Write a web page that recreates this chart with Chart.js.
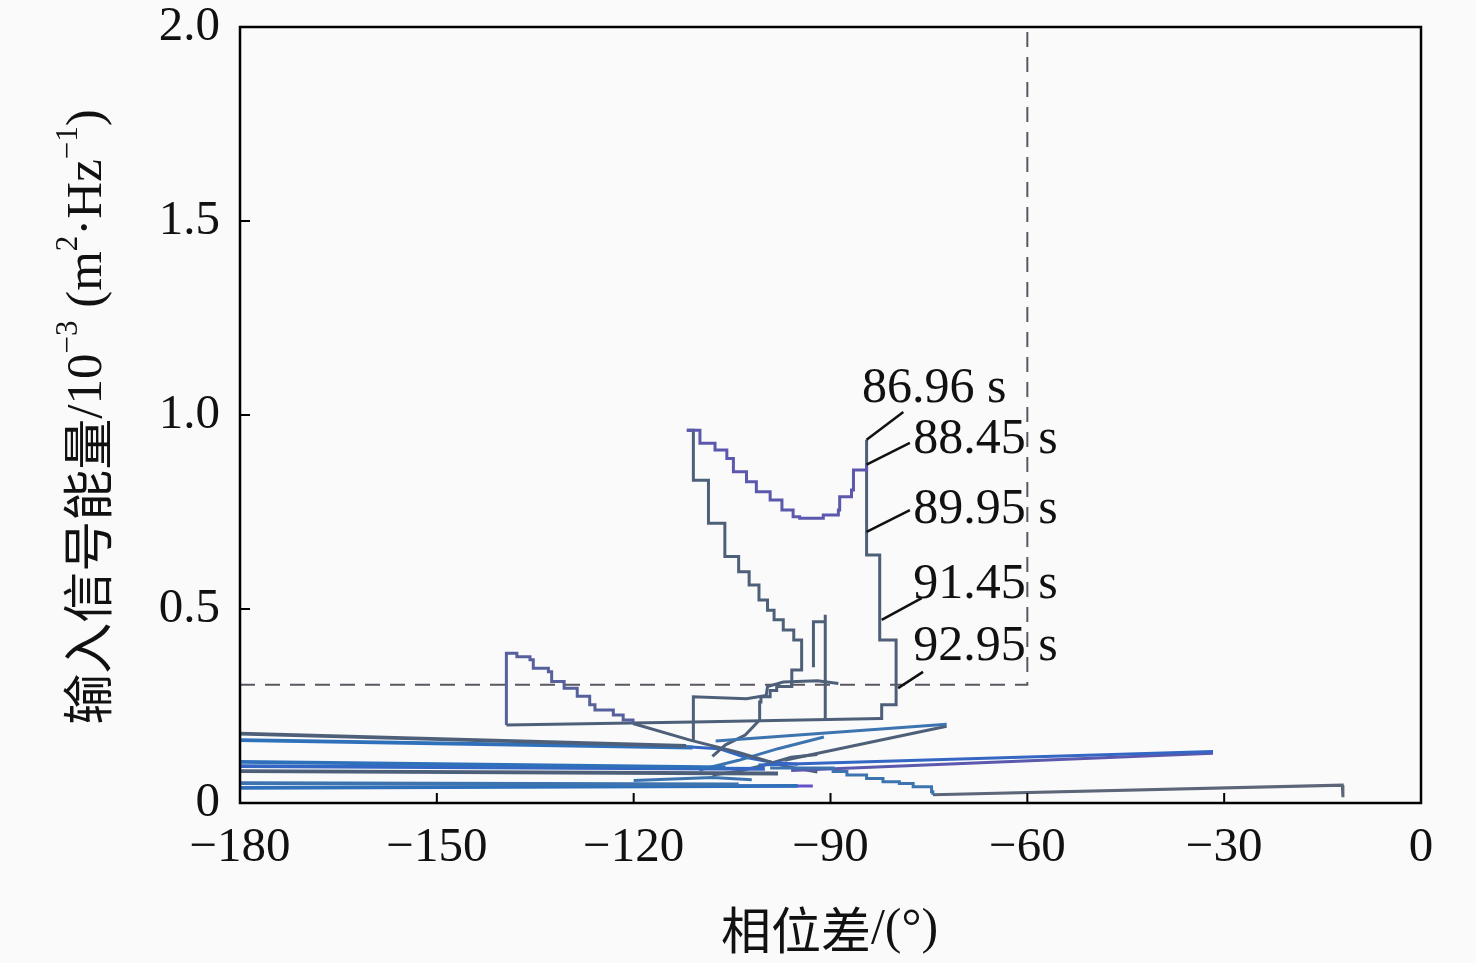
<!DOCTYPE html>
<html lang="zh">
<head>
<meta charset="UTF-8">
<title>输入信号能量与相位差</title>
<script src="https://cdn.jsdelivr.net/npm/chart.js"></script>
<style>
  html, body { margin: 0; padding: 0; background: #fafafa; }
  canvas { display: block; }
</style>
</head>
<body>
<canvas id="chart" width="1476" height="963"></canvas>
<script>
// phase difference (deg) / input energy (1e-3 m^2/Hz)
const upperArcX = [-111.9, -109.9, -107.6, -105.8, -104.8, -102.8, -101.3, -99.2, -97.4, -95.7, -94.7, -91.1, -88.8, -88.6, -86.8, -86.5, -84.5];
const upperArcY = [0.961, 0.927, 0.910, 0.888, 0.854, 0.828, 0.802, 0.781, 0.755, 0.738, 0.734, 0.742, 0.755, 0.789, 0.807, 0.858, 0.871];

const rightDropX = [-84.5, -84.5, -82.5, -80.0, -82.2, -82.2];
const rightDropY = [0.936, 0.639, 0.420, 0.253, 0.240, 0.214];

const innerStairX = [-111.9, -110.9, -108.6, -106.1, -104.0, -102.4, -100.9, -99.6, -98.6, -97.2, -95.6, -94.4, -95.9, -98.2, -99.2, -100.6, -100.8];
const innerStairY = [0.961, 0.832, 0.721, 0.635, 0.596, 0.562, 0.523, 0.497, 0.472, 0.446, 0.420, 0.343, 0.300, 0.290, 0.274, 0.260, 0.214];

const leftLoopX = [-139.4, -139.4, -137.8, -135.8, -135.3, -133.0, -132.5, -130.6, -128.6, -126.7, -125.9, -123.1, -121.6, -120.1];
const leftLoopY = [0.201, 0.386, 0.377, 0.369, 0.347, 0.338, 0.313, 0.296, 0.275, 0.253, 0.240, 0.227, 0.214, 0.205];

const bottomEdgeX = [-82.2, -110.9, -139.4];
const bottomEdgeY = [0.218, 0.209, 0.201];

const midBoxX = [-110.9, -110.9, -102.8, -99.8, -99.6, -97.2, -92.0, -88.8];
const midBoxY = [0.160, 0.274, 0.269, 0.277, 0.300, 0.312, 0.315, 0.308];

const smallRectX = [-92.6, -92.6, -90.8, -90.8];
const smallRectY = [0.350, 0.467, 0.485, 0.212];

const bottomStairX = [-99.2, -89.6, -87.5, -84.5, -82.0, -79.5, -77.4, -74.6, -74.4];
const bottomStairY = [0.090, 0.081, 0.072, 0.063, 0.055, 0.050, 0.042, 0.029, 0.021];

const tailX = [-74.4, -12.0, -11.9];
const tailY = [0.021, 0.046, 0.015];

// straight runs: [x0, x1, ...] / [y0, y1, ...]
const straightRuns = [
  { name: 'toMid1', x: [-107.5, -72.3], y: [0.160, 0.203] },
  { name: 'toMid2', x: [-97.0, -72.3], y: [0.110, 0.198] },
  { name: 'toFar1', x: [-101.0, -31.7], y: [0.098, 0.133] },
  { name: 'toFar2', x: [-96.0, -31.7], y: [0.084, 0.128] },
  { name: 'longA', x: [-180, -112], y: [0.179, 0.147] },
  { name: 'longB', x: [-180, -111], y: [0.162, 0.143] },
  { name: 'longC', x: [-180, -106], y: [0.106, 0.092] },
  { name: 'longD', x: [-180, -100], y: [0.095, 0.088] },
  { name: 'longE', x: [-180, -98], y: [0.082, 0.076] },
  { name: 'longF', x: [-180, -104], y: [0.051, 0.048] },
  { name: 'longG', x: [-180, -95], y: [0.039, 0.044] },
  { name: 'purple', x: [-107, -92.7], y: [0.044, 0.044] },
  { name: 'crossA', x: [-120.1, -111.4, -104, -97, -92], y: [0.205, 0.162, 0.130, 0.095, 0.080] },
  { name: 'crossB', x: [-110, -104, -98, -91], y: [0.085, 0.110, 0.140, 0.170] },
  { name: 'crossC', x: [-100.8, -103, -106, -108], y: [0.214, 0.175, 0.150, 0.120] },
  { name: 'crossD', x: [-112, -107, -103, -99, -95], y: [0.145, 0.140, 0.118, 0.105, 0.100] },
  { name: 'crossE', x: [-108, -104, -100, -96, -92], y: [0.072, 0.082, 0.098, 0.118, 0.125] },
  { name: 'crossF', x: [-120, -114, -108, -102], y: [0.058, 0.062, 0.066, 0.060] }
];

const dashX = [-180, -60, -60];
const dashY = [0.305, 0.305, 2.0];

const xTicks = [-180, -150, -120, -90, -60, -30, 0];
const yTicks = [0, 0.5, 1.0, 1.5, 2.0];

const timeLabels = ['86.96 s', '88.45 s', '89.95 s', '91.45 s', '92.95 s'];
const labelAnchorX = [-84.5, -84.5, -84.5, -82.2, -79.7];
const labelAnchorY = [0.936, 0.872, 0.699, 0.472, 0.296];
const labelEndX = [-78.9, -77.9, -77.9, -76.1, -75.9];
const labelEndY = [1.008, 0.928, 0.755, 0.528, 0.338];
const labelTextX = [-85.2, -77.4, -77.4, -77.4, -77.4];
const labelTextY = [1.033, 0.902, 0.722, 0.528, 0.369];

const colors = {
  slate: '#4e6079', purple: '#5b58ad', blue: '#2f70ba', blue2: '#3466c4',
  violet: '#6650c6', steel: '#3d74b0'
};

function pts(xs, ys) { return xs.map((x, i) => ({ x: x, y: ys[i] })); }

function line(data, color, stepped, width) {
  return { data: data, borderColor: color, borderWidth: width || 3, stepped: !!stepped,
           showLine: true, pointRadius: 0, fill: false };
}

const runColors = {
  toMid1: colors.steel, toMid2: colors.slate, toFar1: colors.blue2, toFar2: colors.purple,
  longA: colors.slate, longB: colors.blue, longC: colors.blue, longD: colors.blue2,
  longE: colors.slate, longF: colors.steel, longG: colors.blue, purple: colors.violet,
  crossA: colors.slate, crossB: colors.steel, crossC: colors.slate,
  crossD: colors.blue2, crossE: colors.slate, crossF: colors.steel
};

const datasets = [
  line(pts(upperArcX, upperArcY), colors.purple, true),
  line(pts(rightDropX, rightDropY), colors.slate, true),
  line(pts(innerStairX, innerStairY), colors.slate, true),
  line(pts(leftLoopX, leftLoopY), '#56609c', true),
  line(pts(bottomEdgeX, bottomEdgeY), colors.slate, false),
  line(pts(midBoxX, midBoxY), colors.slate, false),
  line(pts(smallRectX, smallRectY), colors.slate, true),
  line(pts(bottomStairX, bottomStairY), colors.steel, true),
  line(pts(tailX, tailY), '#5c6678', false)
];
straightRuns.forEach(r => {
  const w = r.name.indexOf('long') === 0 ? 3.8 : 3;
  datasets.push(line(pts(r.x, r.y), runColors[r.name], false, w));
});
const dashSet = line(pts(dashX, dashY), '#5a5760', false, 2);
dashSet.borderDash = [15, 10];
datasets.push(dashSet);

const serif = '"Liberation Serif", "Times New Roman", serif';
const cjk = '"Noto Sans CJK SC", sans-serif';

function drawRich(ctx, parts, size) {
  // parts: [text, kind] where kind is 'cjk', 'latin' or 'sup'
  const fontOf = k => k === 'cjk' ? size + 'px ' + cjk : (k === 'sup' ? Math.round(size * 0.6) + 'px ' + serif : size + 'px ' + serif);
  let total = 0;
  parts.forEach(p => { ctx.font = fontOf(p[1]); total += ctx.measureText(p[0]).width; });
  let x = -total / 2;
  parts.forEach(p => {
    ctx.font = fontOf(p[1]);
    ctx.fillText(p[0], x, p[1] === 'sup' ? -size * 0.38 : 0);
    x += ctx.measureText(p[0]).width;
  });
}

const decorPlugin = {
  id: 'decor',
  afterDatasetsDraw(chart) {
    const ctx = chart.ctx, a = chart.chartArea;
    const xs = chart.scales.x, ys = chart.scales.y;
    ctx.save();
    ctx.strokeStyle = '#000';
    ctx.lineWidth = 2.5;
    ctx.strokeRect(a.left, a.top, a.right - a.left, a.bottom - a.top);
    ctx.lineWidth = 2;
    ctx.beginPath();
    xTicks.forEach(v => { const p = xs.getPixelForValue(v); ctx.moveTo(p, a.bottom); ctx.lineTo(p, a.bottom - 10); });
    yTicks.forEach(v => { const p = ys.getPixelForValue(v); ctx.moveTo(a.left, p); ctx.lineTo(a.left + 10, p); });
    ctx.stroke();

    // time labels with leader lines
    ctx.fillStyle = '#111';
    ctx.strokeStyle = '#111';
    ctx.lineWidth = 2.5;
    ctx.font = '50px ' + serif;
    ctx.textBaseline = 'alphabetic';
    ctx.textAlign = 'left';
    timeLabels.forEach((t, i) => {
      ctx.beginPath();
      ctx.moveTo(xs.getPixelForValue(labelAnchorX[i]), ys.getPixelForValue(labelAnchorY[i]));
      ctx.lineTo(xs.getPixelForValue(labelEndX[i]), ys.getPixelForValue(labelEndY[i]));
      ctx.stroke();
      ctx.fillText(t, xs.getPixelForValue(labelTextX[i]), ys.getPixelForValue(labelTextY[i]));
    });

    // axis titles
    ctx.fillStyle = '#111';
    ctx.textBaseline = 'middle';
    ctx.save();
    ctx.translate((a.left + a.right) / 2 - 1, 930);
    drawRich(ctx, [['相位差', 'cjk'], ['/(°)', 'latin']], 50);
    ctx.restore();
    ctx.save();
    ctx.translate(88, 417);
    ctx.rotate(-Math.PI / 2);
    drawRich(ctx, [['输入信号能量', 'cjk'], ['/10', 'latin'], ['\u22123', 'sup'], [' (m', 'latin'],
                   ['2', 'sup'], ['·Hz', 'latin'], ['\u22121', 'sup'], [')', 'latin']], 51);
    ctx.restore();
    ctx.restore();
  }
};

new Chart(document.getElementById('chart'), {
  type: 'scatter',
  data: { datasets: datasets },
  options: {
    responsive: false,
    devicePixelRatio: 1,
    animation: false,
    layout: { padding: { top: 27, right: 55, left: 0, bottom: 0 } },
    plugins: { legend: { display: false }, tooltip: { enabled: false } },
    scales: {
      x: {
        type: 'linear', min: -180, max: 0,
        afterFit: s => { s.height = 160; s.paddingLeft = 0; s.paddingRight = 0; },
        afterBuildTicks: s => { s.ticks = xTicks.map(v => ({ value: v })); },
        grid: { display: false }, border: { display: false },
        ticks: {
          color: '#111', padding: 8, maxRotation: 0,
          font: { family: serif, size: 49 },
          callback: v => v < 0 ? '\u2212' + Math.abs(v) : String(v)
        }
      },
      y: {
        min: 0, max: 2,
        afterFit: s => { s.width = 240; s.paddingTop = 0; s.paddingBottom = 0; },
        afterBuildTicks: s => { s.ticks = yTicks.map(v => ({ value: v })); },
        grid: { display: false }, border: { display: false },
        ticks: {
          color: '#111', padding: 12,
          font: { family: serif, size: 49 },
          callback: v => v === 0 ? '0' : v.toFixed(1)
        }
      }
    }
  },
  plugins: [decorPlugin]
});
</script>
</body>
</html>
